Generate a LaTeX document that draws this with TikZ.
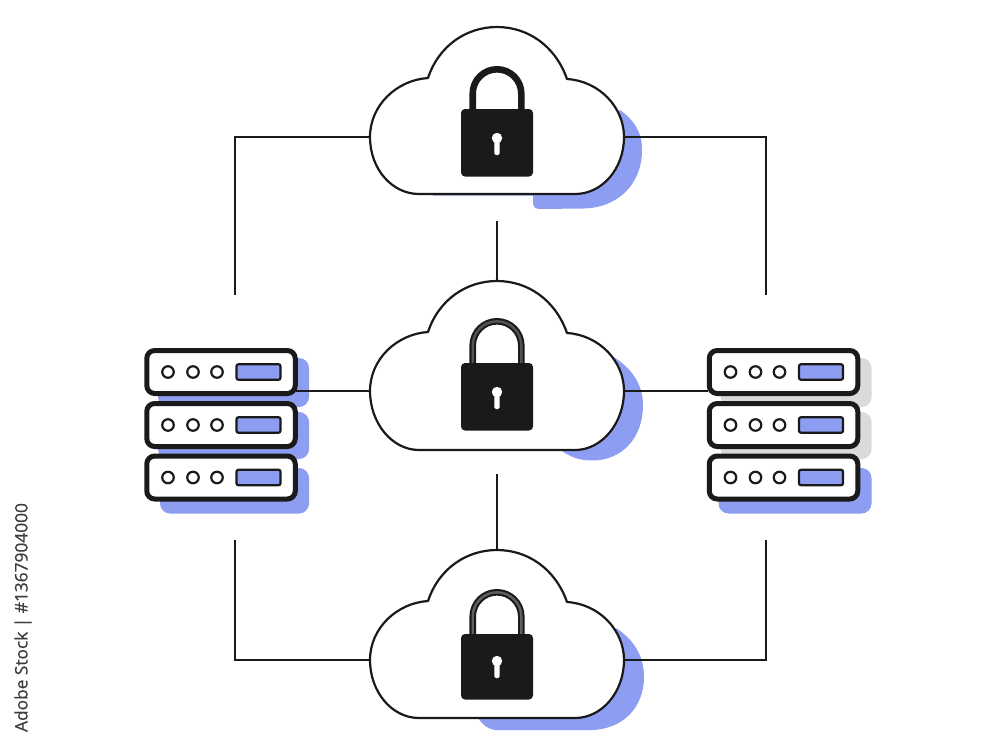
\documentclass[tikz,border=0pt]{standalone}
\usepackage{fontspec}
\setmainfont{Open Sans}[FakeBold=0.5]
\definecolor{ink}{HTML}{1A1A1A}
\definecolor{accent}{HTML}{8D9DF2}
\definecolor{softgrey}{HTML}{DADADA}
\tikzset{
  wire/.style={draw=ink,line width=2pt,line join=miter},
  cloudline/.style={draw=ink,line width=2.2pt,fill=white,line join=round},
  shade/.style={fill=accent,draw=none},
  srvbox/.style={draw=ink,line width=5pt,fill=white,rounded corners=8pt,minimum width=148.5pt,minimum height=43pt,inner sep=0pt,outer sep=0pt},
  led/.style={circle,draw=ink,line width=2.2pt,fill=white,minimum size=11.5pt,inner sep=0pt,outer sep=0pt},
  meter/.style={draw=ink,line width=2.2pt,fill=accent,rounded corners=2pt,minimum width=44pt,minimum height=15.5pt,inner sep=0pt,outer sep=0pt},
}
% #1 name, #2 centre, #3 body top, #4 shackle top, #5 shackle core colour, #6 cloud bottom
\newcommand{\cloudlock}[6]{
  \begin{scope}[shift={#2}]
    \coordinate (#1w) at (-127,0);
    \coordinate (#1e) at (127,0);
    \coordinate (#1n) at (0,-110);
    \coordinate (#1s) at (0,#6);
    \path[cloudline] (-69,-59) .. controls (-58,-92) and (-30,-110) .. (0,-110)
      .. controls (30,-110) and (58,-92) .. (70,-58)
      .. controls (102,-56) and (127,-30) .. (127,0)
      .. controls (127,32) and (105,#6) .. (78,#6) -- (-78,#6)
      .. controls (-105,#6) and (-127,32) .. (-127,0)
      .. controls (-127,-32) and (-100,-57) .. (-69,-59) -- cycle;
    \draw[ink,line width=6.6pt] (-24.3,#3+2) -- (-24.3,#4+27.6) arc[start angle=180,end angle=360,radius=24.3] -- (24.3,#3+2);
    \draw[#5,line width=2.4pt] (-24.3,#3+2) -- (-24.3,#4+27.6) arc[start angle=180,end angle=360,radius=24.3] -- (24.3,#3+2);
    \fill[ink,rounded corners=4pt] (-36,#3) rectangle (36,39.5);
    \fill[white] (0,1) circle (5.2);
    \fill[white,rounded corners=1.5pt] (-2.6,2) -- (2.6,2) -- (2.6,18) -- (-2.6,18) -- cycle;
  \end{scope}
}
% #1 name, #2 x shift, #3 y, #4 shadow colour, #5-6 shadow top/bottom, #7 shadow left
\newcommand{\srvunit}[7]{
  \begin{scope}[shift={(#2,0)}]
    \fill[#4,rounded corners=10pt] (#7,#5) rectangle (309,#6);
    \node[srvbox] (#1) at (221,#3) {};
    \node[led] (#1a) at (168,#3) {};
    \node[led] (#1b) at (193,#3) {};
    \node[led] (#1c) at (217,#3) {};
    \node[meter] (#1m) at (258.5,#3) {};
  \end{scope}
}
\begin{document}
\begin{tikzpicture}[x=1pt,y=-1pt]
\useasboundingbox (0,0) rectangle (1000,750);
\fill[white] (0,0) rectangle (1000,750);

% shadows of the clouds
\path[shade] (433,190) -- (433,195.5) -- (533,195.5) -- (533,203) .. controls (533,207) and (536,209) .. (540,209)
  -- (583,208.5) .. controls (618,208) and (642,184) .. (642,150)
  .. controls (642,132) and (634,120) .. (620,110) -- (590,150) -- cycle;
\path[shade] (612,356) .. controls (632,368) and (643,385) .. (643,405)
  .. controls (643,438) and (622,460.5) .. (592,460.5)
  .. controls (578,460.5) and (568,456) .. (558,448) -- (590,400) -- cycle;
\path[shade] (616,628) .. controls (634,640) and (644,656) .. (644,677)
  .. controls (644,708) and (622,730) .. (590,730) -- (497,730)
  .. controls (489,730) and (482,725) .. (477,716) -- (590,680) -- cycle;

% anchors of the free wire ends
\coordinate (tlEnd) at (234.5,295);
\coordinate (trEnd) at (765.5,295);
\coordinate (blEnd) at (234.5,540);
\coordinate (brEnd) at (765.5,540);
\coordinate (midUp) at (497,221);
\coordinate (midDown) at (497,474);
\coordinate (srvLport) at (296,391);
\coordinate (srvRport) at (708,391);

% servers
\srvunit{la}{0}{372}{accent}{358}{407}{158}
\srvunit{lb}{0}{425}{accent}{412}{459}{158}
\srvunit{lc}{0}{477.5}{accent}{468}{513.5}{160}
\srvunit{ra}{562.5}{372}{softgrey}{358}{407}{158}
\srvunit{rb}{562.5}{425}{softgrey}{412}{459}{158}
\srvunit{rc}{562.5}{477.5}{accent}{468}{513.5}{156}

% clouds
\cloudlock{top}{(497,137)}{-28}{-71}{ink}{57}
\cloudlock{mid}{(497,391)}{-28}{-73}{ink!75!white}{59}
\cloudlock{bot}{(497,660)}{-26}{-71}{ink!70!white}{58}

% connectors
\draw[wire] (topw) -| (tlEnd);
\draw[wire] (tope) -| (trEnd);
\draw[wire] (botw) -| (blEnd);
\draw[wire] (bote) -| (brEnd);
\draw[wire] (midUp) -- (midn);
\draw[wire] (midDown) -- (botn);
\draw[wire] (srvLport) -- (midw);
\draw[wire] (mide) -- (srvRport);

% stock label
\node[rotate=90,text=ink!85!white,font=\fontsize{17.3}{20}\selectfont,inner sep=0pt,anchor=center] (stock) at (23,617.5) {Adobe Stock | \#1367904000};
\end{tikzpicture}
\end{document}
